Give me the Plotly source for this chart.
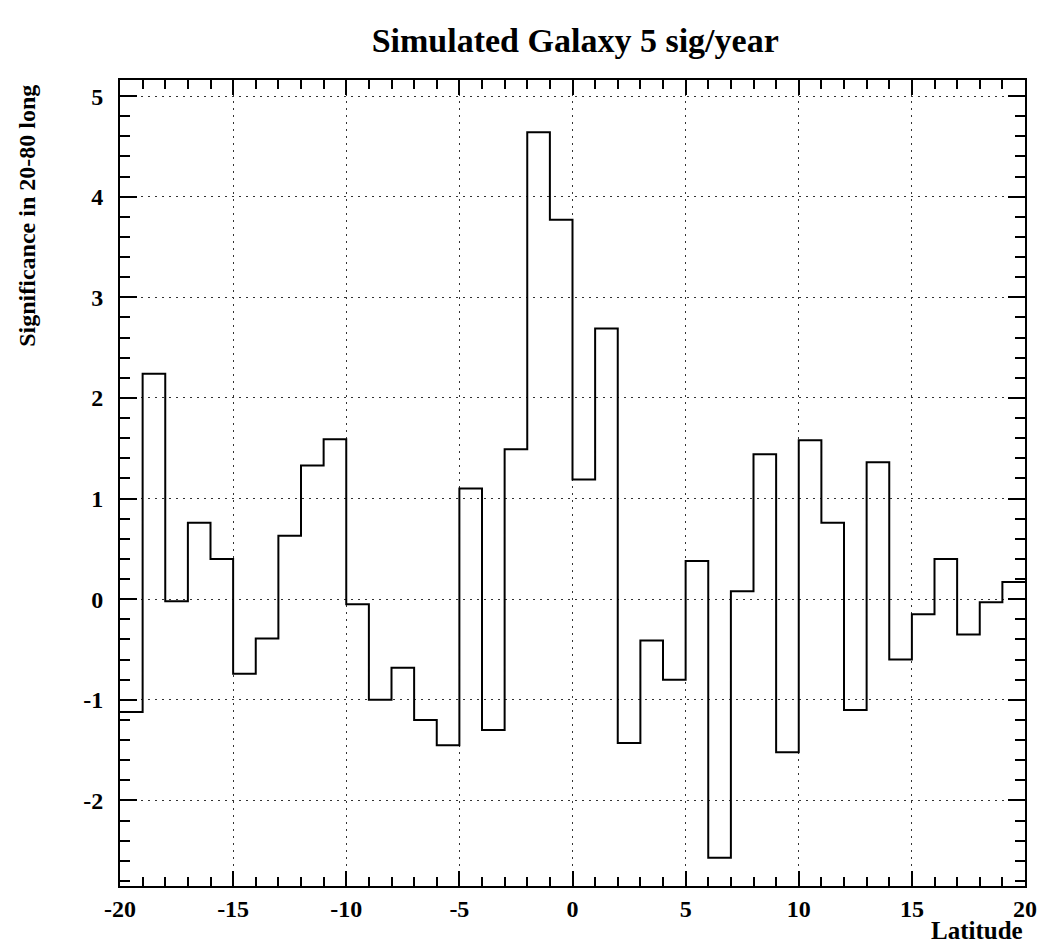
import plotly.graph_objects as go

# Histogram bins: galactic latitude edges (1 degree wide) and significance per bin
lat_edges = list(range(-20, 21))
significance = [
    -1.12, 2.24, -0.02, 0.76, 0.40, -0.74, -0.39, 0.63, 1.33, 1.59,
    -0.05, -1.00, -0.68, -1.20, -1.45, 1.10, -1.30, 1.49, 4.64, 3.77,
    1.19, 2.69, -1.43, -0.41, -0.80, 0.38, -2.57, 0.08, 1.44, -1.52,
    1.58, 0.76, -1.10, 1.36, -0.60, -0.15, 0.40, -0.35, -0.03, 0.17,
]
x_ticks = [-20, -15, -10, -5, 0, 5, 10, 15, 20]
y_ticks = [-2, -1, 0, 1, 2, 3, 4, 5]

FONT = "Liberation Serif"

# step outline: each bin value is held across its width
step_y = significance + [significance[-1]]

fig = go.Figure()
fig.add_trace(go.Scatter(
    x=lat_edges, y=step_y, mode="lines", line_shape="hv",
    line=dict(color="black", width=2), hoverinfo="skip", showlegend=False,
))

axis_common = dict(
    showline=True, linecolor="black", linewidth=2, mirror="allticks",
    ticks="inside", tickcolor="black", tickwidth=2,
    showgrid=True, gridcolor="#333333", gridwidth=1, griddash="2px,5px",
    zeroline=False, automargin=False,
    tickfont=dict(family=FONT, size=24, color="black", weight="bold"),
)

fig.update_xaxes(
    range=[-20, 20], tickvals=x_ticks, ticktext=[str(v) for v in x_ticks],
    ticklen=15, ticklabelstandoff=0,
    minor=dict(dtick=1, ticks="inside", ticklen=9, tickcolor="black",
               tickwidth=2, showgrid=False),
    **axis_common,
)
fig.update_yaxes(
    range=[-2.85, 5.16], tickvals=y_ticks, ticktext=[str(v) for v in y_ticks],
    ticklen=17, ticklabelstandoff=10,
    minor=dict(dtick=0.2, ticks="inside", ticklen=10, tickcolor="black",
               tickwidth=2, showgrid=False),
    **axis_common,
)

fig.update_layout(
    width=1040, height=945,
    margin=dict(l=120, r=15, t=80, b=59, autoexpand=False),
    paper_bgcolor="white", plot_bgcolor="white",
    title=dict(
        text="Simulated Galaxy 5 sig/year",
        x=0.503, xref="paper", xanchor="center",
        y=1 - 40 / 945, yref="container", yanchor="middle",
        font=dict(family=FONT, size=34, color="black", weight="bold"),
    ),
    annotations=[
        dict(
            text="Significance in 20-80 long", textangle=-90,
            xref="paper", yref="paper", x=-0.103, y=(886 - 216) / 806,
            xanchor="center", yanchor="middle", showarrow=False,
            font=dict(family=FONT, size=24, color="black", weight="bold"),
        ),
        dict(
            text="Latitude",
            xref="paper", yref="paper", x=1.0, y=(886 - 946) / 806,
            xanchor="right", yanchor="bottom", showarrow=False,
            font=dict(family=FONT, size=25, color="black", weight="bold"),
        ),
    ],
)

fig.write_html("out.html")
